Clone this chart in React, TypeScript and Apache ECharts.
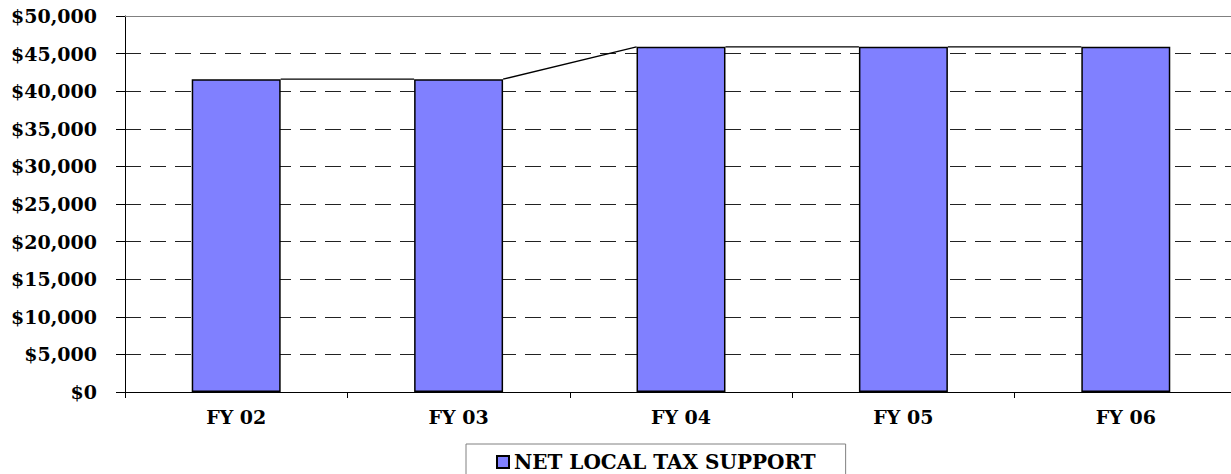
import React, { useEffect, useRef } from "react";
import * as echarts from "echarts";

const categories = ["FY 02", "FY 03", "FY 04", "FY 05", "FY 06"];
const taxSupport = [41600, 41600, 45900, 45900, 45900];
const seriesName = "NET LOCAL TAX SUPPORT";
const yMin = 0;
const yMax = 50000;
const yStep = 5000;

const BAR_FRACTION = 0.4;
const FONT = "'DejaVu Serif', 'Liberation Serif', 'Times New Roman', serif";

export default function App() {
  const ref = useRef<HTMLDivElement>(null);

  useEffect(() => {
    document.body.style.margin = "0";
    if (!ref.current) return;
    const chart = echarts.init(ref.current, undefined, { renderer: "svg" });

    const money = (v: number) =>
      "$" + v.toLocaleString("en-US", { maximumFractionDigits: 0 });

    chart.setOption({
      animation: false,
      backgroundColor: "#ffffff",
      grid: {
        left: 125,
        top: 16,
        width: 1112,
        bottom: 82,
        containLabel: false,
        outerBoundsMode: "none",
      },
      legend: {
        data: [seriesName],
        left: 466,
        top: 444,
        padding: [8, 30, 12, 30],
        borderColor: "#808080",
        borderWidth: 1,
        itemWidth: 12,
        itemHeight: 12,
        itemGap: 10,
        icon: "rect",
        textStyle: {
          fontFamily: FONT,
          fontWeight: "bold",
          fontSize: 20,
          color: "#000",
        },
      },
      xAxis: [
        {
          type: "category",
          data: categories,
          boundaryGap: true,
          axisLine: { lineStyle: { color: "#000", width: 1 } },
          axisTick: { show: true, length: 6, lineStyle: { color: "#000" } },
          axisLabel: {
            margin: 15,
            fontFamily: FONT,
            fontWeight: "bold",
            fontSize: 19,
            color: "#000",
          },
          splitLine: { show: false },
        },
        {
          type: "category",
          data: categories,
          position: "top",
          axisLine: { show: true, lineStyle: { color: "#808080", width: 1 } },
          axisTick: { show: false },
          axisLabel: { show: false },
          splitLine: { show: false },
        },
      ],
      yAxis: {
        type: "value",
        min: yMin,
        max: yMax,
        interval: yStep,
        axisLine: { show: true, lineStyle: { color: "#000", width: 1 } },
        axisTick: { show: true, length: 9, lineStyle: { color: "#000" } },
        axisLabel: {
          margin: 28,
          formatter: (v: number) => money(v),
          fontFamily: FONT,
          fontWeight: "bold",
          fontSize: 19,
          color: "#000",
        },
        splitLine: {
          show: true,
          lineStyle: { color: "#222", width: 1, type: [16, 9] },
        },
      },
      series: [
        {
          name: seriesName,
          type: "bar",
          data: taxSupport,
          barWidth: BAR_FRACTION * 100 + "%",
          itemStyle: { color: "#8080FF", borderColor: "#000", borderWidth: 1.5 },
          z: 2,
        },
        {
          // series lines joining the top corners of neighbouring bars
          name: "series-lines",
          type: "custom",
          data: taxSupport.map((v, i) => [i, v]),
          z: 3,
          renderItem: (params: any, api: any) => {
            const i = api.value(0);
            if (i === 0) return { type: "group", children: [] };
            const band = api.size([1, 0])[0];
            const half = (band * BAR_FRACTION) / 2;
            const prev = api.coord([i - 1, taxSupport[i - 1]]);
            const cur = api.coord([i, api.value(1)]);
            return {
              type: "line",
              shape: {
                x1: prev[0] + half,
                y1: prev[1],
                x2: cur[0] - half,
                y2: cur[1],
              },
              style: { stroke: "#000", lineWidth: 1.3, fill: null },
            };
          },
        },
      ],
    });

    return () => chart.dispose();
  }, []);

  return <div ref={ref} style={{ width: 1231, height: 474 }} />;
}
